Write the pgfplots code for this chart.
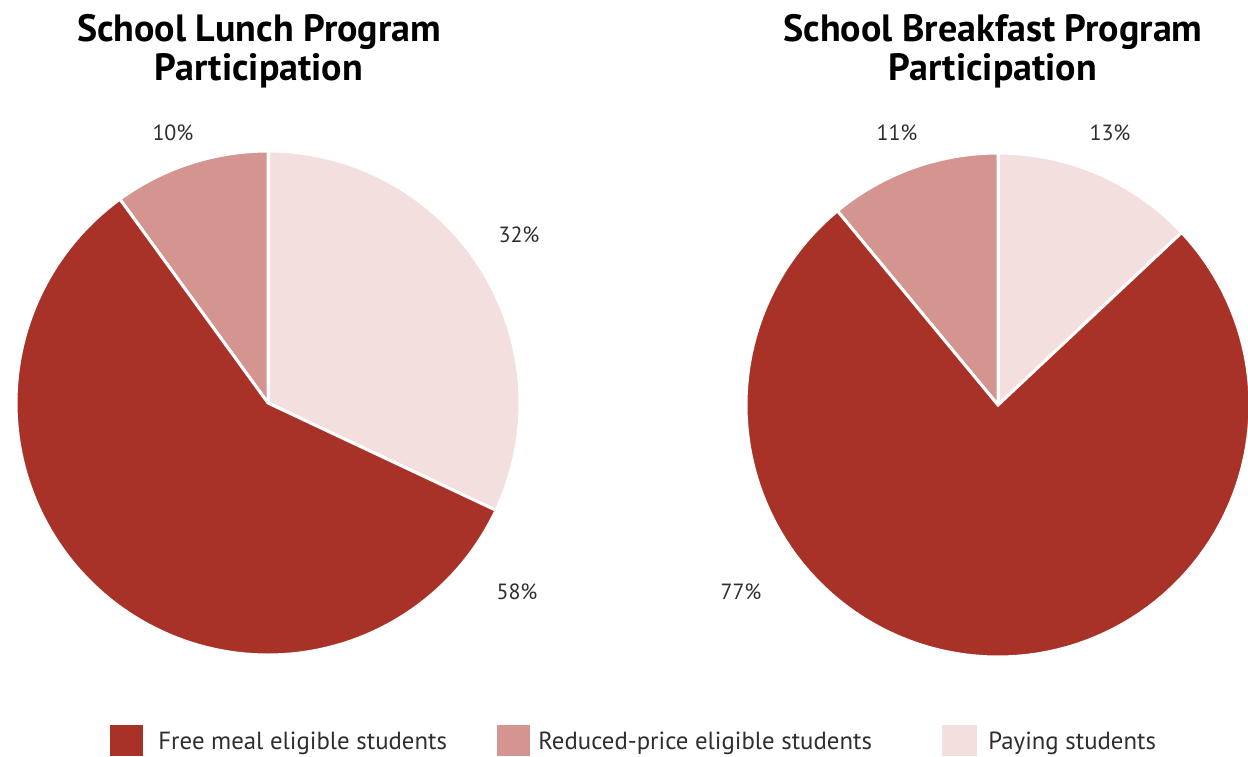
\documentclass[border=0pt]{standalone}
\usepackage{pgfplots}
\pgfplotsset{compat=1.18}
\usepackage{fontspec}
\setmainfont{PT Sans}
\definecolor{freec}{HTML}{A93228}
\definecolor{redc}{HTML}{D4948F}
\definecolor{payc}{HTML}{F2DFDE}
\definecolor{txt}{HTML}{2E2E2E}
% data (percent)
\def\LFree{58}\def\LRed{10}\def\LPay{32}
\def\BFree{77}\def\BRed{11}\def\BPay{13}
\pgfplotsset{pie/.style={x=126pt,y=126pt,xmin=-1,xmax=1,ymin=-1,ymax=1,
  hide axis,clip=false,anchor=center},
  wedge/.style={draw=white,line width=1.5pt,samples=120,variable=\t}}
\begin{document}
\begin{tikzpicture}
\useasboundingbox (0,0) rectangle (624pt,-378pt);
% Left pie
\begin{axis}[pie,at={(134pt,-201.5pt)}]
\pgfmathsetmacro{\pa}{90-3.6*\LPay}
\pgfmathsetmacro{\ra}{90+3.6*\LRed}
\addplot[wedge,fill=payc,domain=\pa:90] ({cos(\t)},{sin(\t)}) -- (axis cs:0,0) -- cycle;
\addplot[wedge,fill=redc,domain=90:\ra] ({cos(\t)},{sin(\t)}) -- (axis cs:0,0) -- cycle;
\addplot[wedge,fill=freec,domain=\ra:\pa+360] ({cos(\t)},{sin(\t)}) -- (axis cs:0,0) -- cycle;
\end{axis}
% Right pie
\begin{axis}[pie,at={(499pt,-202.5pt)}]
\pgfmathsetmacro{\pa}{90-3.6*\BPay}
\pgfmathsetmacro{\ra}{90+3.6*\BRed}
\addplot[wedge,fill=payc,domain=\pa:90] ({cos(\t)},{sin(\t)}) -- (axis cs:0,0) -- cycle;
\addplot[wedge,fill=redc,domain=90:\ra] ({cos(\t)},{sin(\t)}) -- (axis cs:0,0) -- cycle;
\addplot[wedge,fill=freec,domain=\ra:\pa+360] ({cos(\t)},{sin(\t)}) -- (axis cs:0,0) -- cycle;
\end{axis}
% Titles
\begin{scope}[every node/.style={anchor=base,inner sep=0pt,font=\bfseries\fontsize{19}{19.5}\selectfont}]
\node at (129.5pt,-20.5pt) {School Lunch Program};
\node at (129.5pt,-40pt) {Participation};
\node at (496.5pt,-20.5pt) {School Breakfast Program};
\node at (496.5pt,-40pt) {Participation};
\end{scope}
% Percent labels
\begin{scope}[every node/.style={anchor=base,text=txt,font=\fontsize{11}{13}\selectfont}]
\node at (86.5pt,-70pt) {\LRed\%};
\node at (259.5pt,-121pt) {\LPay\%};
\node at (258.5pt,-299.5pt) {\LFree\%};
\node at (448.5pt,-70pt) {\BRed\%};
\node at (555pt,-70pt) {\BPay\%};
\node at (370.5pt,-299.5pt) {\BFree\%};
\end{scope}
% Legend
\fill[freec] (55pt,-362.5pt) rectangle (71.5pt,-378pt);
\fill[redc] (248.5pt,-362.5pt) rectangle (265pt,-378pt);
\fill[payc] (471pt,-362.5pt) rectangle (488.5pt,-378pt);
\begin{scope}[every node/.style={anchor=base west,inner sep=0pt,text=txt,font=\fontsize{12.4}{14}\selectfont}]
\node at (79pt,-374.5pt) {Free meal eligible students};
\node at (269pt,-374.5pt) {Reduced-price eligible students};
\node at (494pt,-374.5pt) {Paying students};
\end{scope}
\end{tikzpicture}
\end{document}
